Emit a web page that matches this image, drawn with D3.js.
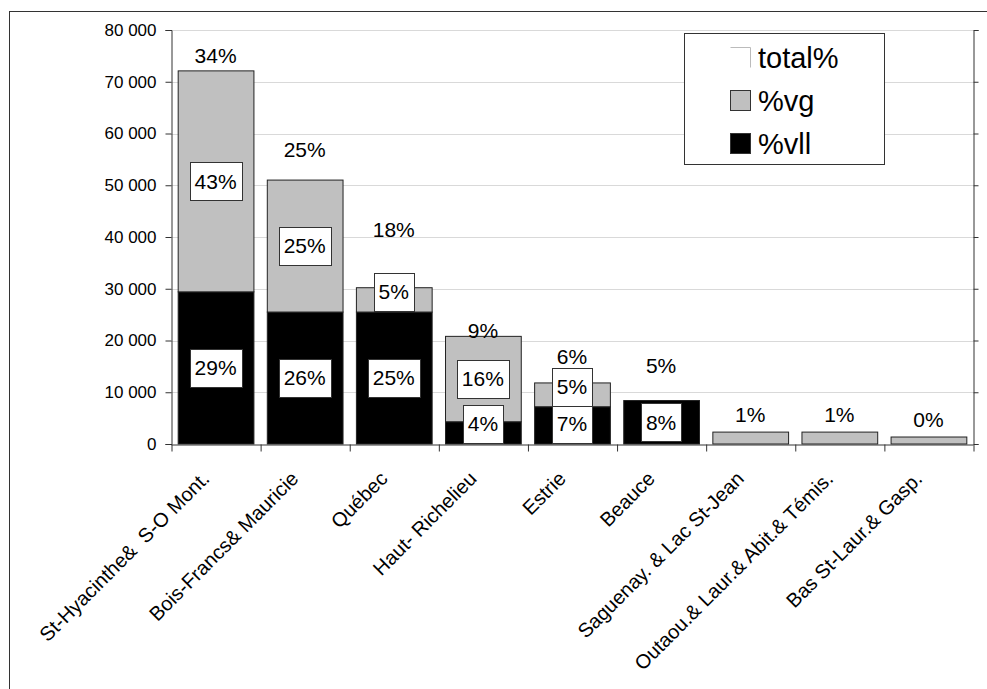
<!DOCTYPE html>
<html><head><meta charset="utf-8">
<script src="https://cdn.jsdelivr.net/npm/d3@7"></script>
<style>
html,body{margin:0;padding:0;background:#fff;}
text{font-family:"Liberation Sans",Arial,Helvetica,sans-serif;fill:#000;}
</style></head>
<body><svg id="c" width="987" height="689"></svg>
<script>
const categories = ["St-Hyacinthe&  S-O Mont.","Bois-Francs& Mauricie","Québec","Haut- Richelieu","Estrie","Beauce","Saguenay. & Lac St-Jean","Outaou.& Laur.& Abit.& Témis.","Bas St-Laur.& Gasp."];
const vll   = [29400, 25500, 25500, 4300, 7200, 8400, 0, 0, 0];
const vg    = [42700, 25500, 4700, 16500, 4600, 0, 2300, 2300, 1350];
const total = [6000, 11900, 22300, 2240, 10240, 13400, 6760, 6760, 6760];
const vllLabels   = ["29%","26%","25%","4%","7%","8%","","",""];
const vgLabels    = ["43%","25%","5%","16%","5%","","","",""];
const totalLabels = ["34%","25%","18%","9%","6%","5%","1%","1%","0%"];
const yTicks = [0,10000,20000,30000,40000,50000,60000,70000,80000];
const legendItems = ["total%","%vg","%vll"];

const svg = d3.select("#c");
const L=171, R=973, T=30, B=444;
const fmt = d3.formatLocale({decimal:",",thousands:" ",grouping:[3],currency:["",""]}).format(",");

// outer frame
svg.append("rect").attr("x",9.5).attr("y",11.5).attr("width",1000).attr("height",700)
  .attr("fill","none").attr("stroke","#333").attr("stroke-width",1);

const x = d3.scaleBand().domain(categories).range([L,R]).paddingInner(0.15).paddingOuter(0.075);
const y = d3.scaleLinear().domain([0,80000]).range([B,T]);

// gridlines
svg.append("g").selectAll("line").data(yTicks.slice(1)).join("line")
  .attr("x1",L).attr("x2",R).attr("y1",d=>Math.round(y(d))+0.5).attr("y2",d=>Math.round(y(d))+0.5)
  .attr("stroke","#d9d9d9").attr("stroke-width",1);

// stacked bars
const rows = categories.map((c,i)=>({cat:c, vll:vll[i], vg:vg[i], total:total[i]}));
const stack = d3.stack().keys(["vll","vg","total"])(rows);
const fills = {vll:"#000", vg:"#c0c0c0"};
["vll","vg"].forEach((k,ki)=>{
  svg.append("g").selectAll("rect").data(stack[ki].filter(d=>d[1]-d[0]>0)).join("rect")
    .attr("x",d=>x(d.data.cat)+0.5).attr("width",x.bandwidth())
    .attr("y",d=>y(d[1])).attr("height",d=>y(d[0])-y(d[1]))
    .attr("fill",fills[k]).attr("stroke","#222").attr("stroke-width",1);
});

// axes
const gl = svg.append("g").attr("transform",`translate(${L+0.5},0)`)
  .call(d3.axisLeft(y).tickValues(yTicks).tickSize(6).tickPadding(9).tickFormat(d=>fmt(d)));
gl.select(".domain").attr("stroke","#333");
gl.selectAll(".tick line").attr("stroke","#333");
gl.selectAll("text").style("font-size","17px").attr("fill","#000");

const gr = svg.append("g").attr("transform",`translate(${R+0.5},0)`)
  .call(d3.axisRight(y).tickValues(yTicks).tickSize(5).tickFormat(""));
gr.select(".domain").attr("stroke","#333");
gr.selectAll(".tick line").attr("stroke","#333");

const xb = d3.scaleLinear().domain([0,categories.length]).range([L,R]);
const gb = svg.append("g").attr("transform",`translate(0,${B+0.5})`)
  .call(d3.axisBottom(xb).tickValues(d3.range(0,categories.length+1)).tickSize(7).tickSizeOuter(0).tickFormat(""));
gb.select(".domain").attr("stroke","#333");
gb.selectAll(".tick line").attr("stroke","#333").attr("transform","translate(0.5,0)");

// category labels
svg.append("g").selectAll("text").data(categories).join("text")
  .attr("transform",d=>`translate(${x(d)+x.bandwidth()/2-5},${B+36}) rotate(-45)`)
  .attr("text-anchor","end").style("font-size","20px").style("white-space","pre")
  .text(d=>d);

// boxed segment labels
function boxedLabels(layer, labels){
  const g = svg.append("g");
  layer.forEach((d,i)=>{
    if(!labels[i]) return;
    const cx = x(d.data.cat)+x.bandwidth()/2;
    const top = y(d[1]), bot = y(d[0]);
    const bh = 38;
    const cy = Math.min((top+bot)/2, bot - bh/2 - 1);
    const t = g.append("text").attr("x",cx).attr("y",cy).attr("dy","0.35em")
      .attr("text-anchor","middle").style("font-size","21px").text(labels[i]);
    const w = t.node().getComputedTextLength()+10;
    g.insert("rect","text").attr("x",Math.round(cx-w/2)+0.5).attr("y",Math.round(cy-bh/2)+0.5)
      .attr("width",Math.round(w)).attr("height",bh)
      .attr("fill","#fff").attr("stroke","#333").attr("stroke-width",1);
  });
}
boxedLabels(stack[0], vllLabels);
boxedLabels(stack[1], vgLabels);

// total labels (invisible series)
svg.append("g").selectAll("text").data(stack[2]).join("text")
  .attr("x",d=>x(d.data.cat)+x.bandwidth()/2)
  .attr("y",d=>(y(d[0])+y(d[1]))/2).attr("dy","0.35em")
  .attr("text-anchor","middle").style("font-size","21px")
  .text((d,i)=>totalLabels[i]);

// legend
const lg = svg.append("g");
lg.append("rect").attr("x",684.5).attr("y",33.5).attr("width",200).attr("height",131)
  .attr("fill","#fff").attr("stroke","#333").attr("stroke-width",1);
const rowY = [47.5, 90.5, 133.5];
legendItems.forEach((name,i)=>{
  if(i===0){
    lg.append("path").attr("d",`M730.5,${rowY[i]}H750.5V${rowY[i]+20}`).attr("fill","none").attr("stroke","#bbb");
  } else {
    lg.append("rect").attr("x",730.5).attr("y",rowY[i]).attr("width",20).attr("height",20)
      .attr("fill", i===1 ? "#c0c0c0" : "#000").attr("stroke","#333");
  }
  lg.append("text").attr("x",758).attr("y",rowY[i]+10).attr("dy","0.35em")
    .style("font-size","29px").text(name);
});
</script></body></html>
